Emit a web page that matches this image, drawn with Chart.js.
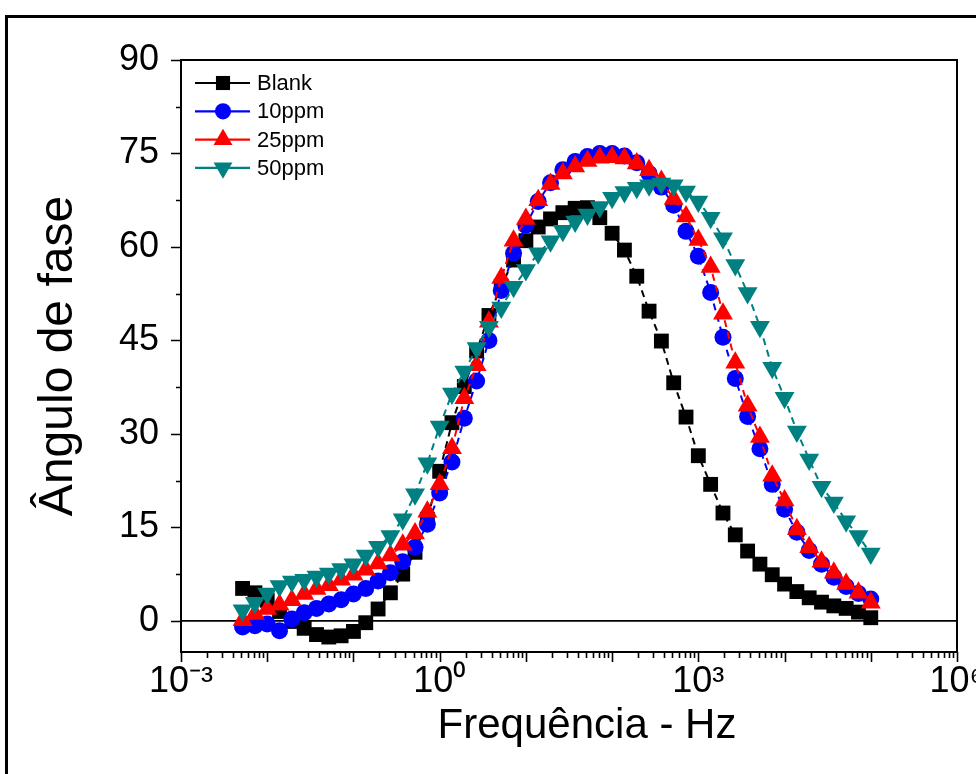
<!DOCTYPE html>
<html><head><meta charset="utf-8">
<script src="https://cdn.jsdelivr.net/npm/chart.js@4.4.1/dist/chart.umd.min.js"></script>
<style>html,body{margin:0;padding:0;background:#fff;}#wrap{width:976px;height:774px;position:relative;overflow:hidden;}</style>
</head><body><div id="wrap"><canvas id="c" width="976" height="774"></canvas></div>
<script>
const frequencies = [0.00518, 0.00720, 0.01, 0.01389, 0.01931, 0.02683, 0.03728, 0.05179, 0.07197, 0.1, 0.1389, 0.1931, 0.2683, 0.3728, 0.5179, 0.7197, 1, 1.389, 1.931, 2.683, 3.728, 5.179, 7.197, 10, 13.89, 19.31, 26.83, 37.28, 51.79, 71.97, 100, 138.9, 193.1, 268.3, 372.8, 517.9, 719.7, 1000, 1389, 1931, 2683, 3728, 5179, 7197, 10000, 13895, 19307, 26827, 37276, 51795, 71969, 100000];
const blank = [5.2, 4.5, 3.3, 1.5, -0.1, -1.2, -2.2, -2.6, -2.4, -1.7, -0.3, 1.9, 4.5, 7.5, 11.0, 16.3, 24.0, 31.8, 37.6, 43.3, 49.0, 53.7, 57.9, 61.0, 63.2, 64.5, 65.5, 66.2, 66.3, 64.7, 62.2, 59.5, 55.3, 49.7, 44.9, 38.2, 32.7, 26.5, 21.9, 17.3, 13.8, 11.2, 9.1, 7.4, 5.9, 4.7, 3.7, 3.0, 2.4, 2.0, 1.4, 0.5];
const ppm10 = [-1.0, -0.8, -0.5, -1.6, 0.3, 1.3, 2.0, 2.7, 3.4, 4.3, 5.2, 6.4, 7.7, 9.5, 11.8, 15.5, 20.5, 25.5, 32.5, 38.5, 45.0, 53.0, 59.0, 63.5, 67.3, 70.3, 72.4, 73.7, 74.5, 75.0, 75.0, 74.6, 73.5, 71.8, 69.6, 66.7, 62.5, 58.5, 52.7, 45.5, 38.9, 32.8, 27.6, 21.9, 17.9, 14.2, 11.3, 9.1, 7.0, 5.5, 4.4, 3.5];
const ppm25 = [0.1, 1.1, 1.9, 2.6, 3.3, 4.3, 5.1, 5.7, 6.6, 7.4, 8.2, 9.2, 10.5, 12.2, 14.0, 17.5, 21.9, 27.7, 35.7, 41.0, 48.0, 55.0, 61.0, 64.5, 67.5, 70.1, 71.8, 72.9, 73.8, 74.3, 74.4, 74.2, 73.4, 72.3, 70.6, 67.7, 64.9, 61.1, 56.8, 49.3, 41.4, 34.5, 29.5, 23.3, 19.3, 14.7, 11.8, 9.5, 7.7, 5.9, 4.5, 2.9];
const ppm50 = [1.7, 2.9, 4.4, 5.6, 6.3, 6.6, 7.1, 7.6, 8.3, 9.1, 10.5, 11.9, 13.6, 16.3, 20.3, 25.3, 31.2, 36.5, 40.0, 43.8, 47.2, 50.3, 53.6, 56.3, 59.0, 60.9, 62.6, 64.1, 65.2, 66.4, 67.9, 68.8, 69.5, 69.9, 70.2, 69.9, 68.9, 67.3, 64.7, 61.4, 57.1, 52.6, 47.2, 40.6, 35.8, 30.4, 25.9, 21.5, 19.0, 16.0, 13.6, 10.8];
const seriesNames = ['Blank', '10ppm', '25ppm', '50ppm'];
const xTickValues = [1e-3, 1, 1e3, 1e6];
const xTickLabels = ['10\u207B\u00B3', '10\u2070', '10\u00B3', '10\u2076'];
const yTickValues = [0, 15, 30, 45, 60, 75, 90];
const xTitle = 'Frequência - Hz';
const yTitle = 'Ângulo de fase';

const FONT = '"Liberation Sans", Arial, Helvetica, sans-serif';
const colors = ['#000000', '#0000ff', '#ff0000', '#008080'];
const styles = [
  {pointStyle: 'rect', r: 10.5, rot: 0},
  {pointStyle: 'circle', r: 8.5, rot: 0},
  {pointStyle: 'triangle', r: 11.5, rot: 0},
  {pointStyle: 'triangle', r: 11.5, rot: 180}
];
const values = [blank, ppm10, ppm25, ppm50];

const datasets = values.map((vals, i) => ({
  label: seriesNames[i],
  data: frequencies.map((f, k) => ({x: f, y: vals[k]})),
  showLine: true,
  borderColor: colors[i],
  backgroundColor: colors[i],
  borderWidth: 2,
  borderDash: [7, 5],
  tension: 0,
  pointStyle: styles[i].pointStyle,
  pointRadius: styles[i].r,
  pointRotation: styles[i].rot,
  pointBorderWidth: 0,
  pointHoverRadius: styles[i].r,
  order: 4 - i
}));

function marker(ctx, style, x, y, r, rot, color) {
  ctx.save();
  ctx.fillStyle = color;
  ctx.beginPath();
  if (style === 'rect') {
    const s = r * Math.SQRT1_2;
    ctx.rect(x - s, y - s, 2 * s, 2 * s);
  } else if (style === 'circle') {
    ctx.arc(x, y, r, 0, Math.PI * 2);
  } else {
    const d = rot ? -1 : 1;
    ctx.moveTo(x, y - d * r);
    ctx.lineTo(x + Math.sin(Math.PI * 2 / 3) * r, y + d * r * 0.5);
    ctx.lineTo(x - Math.sin(Math.PI * 2 / 3) * r, y + d * r * 0.5);
    ctx.closePath();
  }
  ctx.fill();
  ctx.restore();
}

const framePlugin = {
  id: 'framePlugin',
  beforeDraw(chart) {
    const ctx = chart.ctx;
    ctx.save();
    ctx.fillStyle = '#fff';
    ctx.fillRect(0, 0, chart.width, chart.height);
    ctx.strokeStyle = '#000';
    ctx.lineWidth = 3;
    ctx.beginPath();
    ctx.moveTo(6.5, 774);
    ctx.lineTo(6.5, 16.5);
    ctx.lineTo(976, 16.5);
    ctx.stroke();
    ctx.restore();
  },
  beforeDatasetsDraw(chart) {
    const {ctx, chartArea: a, scales: {y}} = chart;
    const y0 = y.getPixelForValue(0);
    ctx.save();
    ctx.strokeStyle = '#000';
    ctx.lineWidth = 1.6;
    ctx.beginPath();
    ctx.moveTo(a.left, y0);
    ctx.lineTo(a.right, y0);
    ctx.stroke();
    ctx.restore();
  },
  afterDraw(chart) {
    const {ctx, chartArea: a, scales: {x, y}} = chart;
    ctx.save();
    ctx.strokeStyle = '#000';
    ctx.lineWidth = 2;
    ctx.strokeRect(a.left, a.top, a.right - a.left, a.bottom - a.top);
    ctx.lineWidth = 1.6;
    ctx.beginPath();
    for (let n = -3; n <= 6; n++) {
      for (let m = 1; m <= 9; m++) {
        const v = m * Math.pow(10, n);
        if (v > 1.0001e6) break;
        const px = Math.round(x.getPixelForValue(v)) + 0.5;
        const len = m === 1 ? 10 : 6;
        ctx.moveTo(px, a.bottom);
        ctx.lineTo(px, a.bottom + len);
      }
    }
    for (let v = 0; v <= 90; v += 7.5) {
      const py = Math.round(y.getPixelForValue(v)) + 0.5;
      const len = (v % 15 === 0) ? 10 : 5;
      ctx.moveTo(a.left, py);
      ctx.lineTo(a.left - len, py);
    }
    ctx.stroke();
    // legend
    ctx.font = '22px ' + FONT;
    ctx.textBaseline = 'middle';
    ctx.textAlign = 'left';
    seriesNames.forEach((name, i) => {
      const ly = 83 + 28.3 * i;
      ctx.strokeStyle = colors[i];
      ctx.lineWidth = 2.2;
      ctx.beginPath();
      ctx.moveTo(195, ly);
      ctx.lineTo(250, ly);
      ctx.stroke();
      marker(ctx, styles[i].pointStyle, 223, ly, styles[i].r * 0.95, styles[i].rot, colors[i]);
      ctx.fillStyle = '#000';
      ctx.fillText(name, 257, ly + 1);
    });
    // x title
    ctx.font = '42px ' + FONT;
    ctx.textAlign = 'center';
    ctx.textBaseline = 'middle';
    ctx.fillStyle = '#000';
    ctx.fillText(xTitle, 587, 726);
    ctx.restore();
  }
};

new Chart(document.getElementById('c'), {
  type: 'scatter',
  data: {datasets},
  options: {
    responsive: false,
    animation: false,
    events: [],
    layout: {padding: {top: 60, right: 19, left: 0, bottom: 0}},
    plugins: {legend: {display: false}, tooltip: {enabled: false}},
    scales: {
      x: {
        type: 'logarithmic',
        min: 1e-3,
        max: 1e6,
        grid: {display: false, drawTicks: false},
        border: {display: false},
        afterBuildTicks: (s) => { s.ticks = xTickValues.map(v => ({value: v})); },
        afterFit: (s) => { s.height = 122; s.paddingLeft = 0; s.paddingRight = 0; },
        ticks: {
          autoSkip: false,
          maxRotation: 0,
          padding: 8,
          color: '#000',
          font: {family: FONT, size: 36},
          callback: (v) => {
            const i = xTickValues.findIndex(t => Math.abs(Math.log10(t) - Math.log10(v)) < 1e-6);
            return i >= 0 ? xTickLabels[i] : '';
          }
        },
        title: {display: false, text: xTitle}
      },
      y: {
        type: 'linear',
        min: -5,
        max: 90,
        grid: {display: false, drawTicks: false},
        border: {display: false},
        afterBuildTicks: (s) => { s.ticks = yTickValues.map(v => ({value: v})); },
        afterFit: (s) => { s.width = 181; s.paddingTop = 0; s.paddingBottom = 0; },
        ticks: {padding: 22, color: '#000', font: {family: FONT, size: 36}},
        title: {display: true, text: yTitle, color: '#000', font: {family: FONT, size: 48}, padding: {top: 30, bottom: 0}}
      }
    }
  },
  plugins: [framePlugin]
});
</script></body></html>
